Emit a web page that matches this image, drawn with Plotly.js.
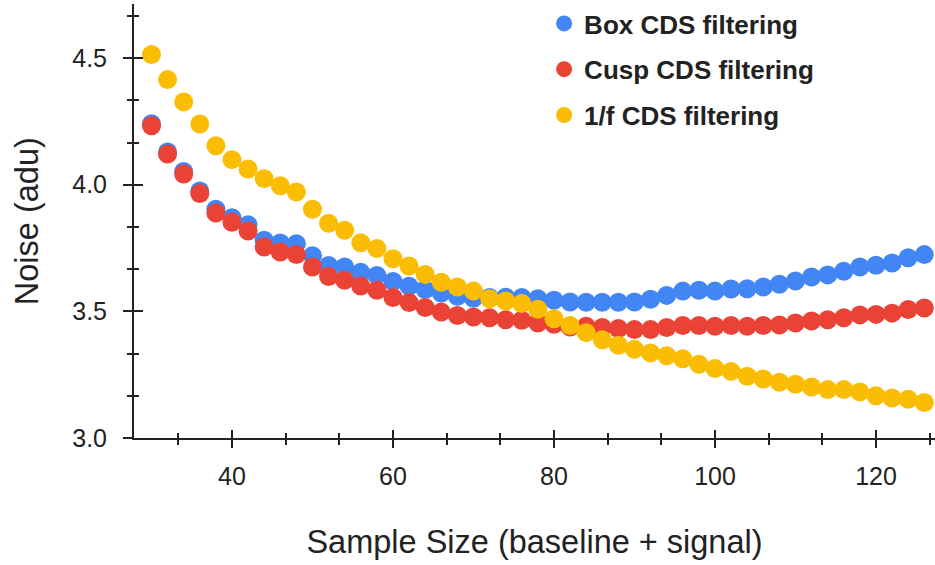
<!DOCTYPE html>
<html>
<head>
<meta charset="utf-8">
<script src="https://cdn.plot.ly/plotly-3.0.1.min.js"></script>
<style>html,body{margin:0;padding:0;background:#fff;}#chart{width:935px;height:565px;}</style>
</head>
<body>
<div id="chart"></div>
<script>
const sampleSize = [30,32,34,36,38,40,42,44,46,48,50,52,54,56,58,60,62,64,66,68,70,72,74,76,78,80,82,84,86,88,90,92,94,96,98,100,102,104,106,108,110,112,114,116,118,120,122,124,126];

const boxNoise = [4.241,4.129,4.052,3.975,3.903,3.870,3.842,3.781,3.770,3.767,3.720,3.681,3.675,3.654,3.642,3.618,3.599,3.586,3.572,3.560,3.552,3.555,3.556,3.555,3.550,3.544,3.537,3.536,3.536,3.536,3.537,3.548,3.563,3.580,3.583,3.580,3.588,3.589,3.596,3.607,3.620,3.636,3.644,3.658,3.675,3.682,3.691,3.712,3.724];

const cuspNoise = [4.233,4.121,4.042,3.965,3.888,3.852,3.817,3.754,3.734,3.724,3.675,3.638,3.623,3.600,3.583,3.555,3.535,3.515,3.497,3.484,3.478,3.475,3.467,3.465,3.454,3.449,3.438,3.441,3.436,3.432,3.428,3.428,3.436,3.444,3.444,3.441,3.444,3.441,3.444,3.446,3.454,3.462,3.467,3.475,3.486,3.488,3.493,3.507,3.513];

const oneOverFNoise = [4.514,4.415,4.327,4.240,4.154,4.099,4.062,4.024,3.996,3.971,3.903,3.848,3.820,3.771,3.748,3.708,3.679,3.646,3.615,3.596,3.580,3.550,3.541,3.531,3.508,3.471,3.444,3.416,3.388,3.366,3.350,3.336,3.325,3.313,3.291,3.274,3.263,3.244,3.233,3.220,3.212,3.201,3.191,3.191,3.182,3.167,3.158,3.153,3.140];

const seriesNames = ['Box CDS filtering','Cusp CDS filtering','1/f CDS filtering'];
const xTitle = 'Sample Size (baseline + signal)';
const yTitle = 'Noise (adu)';

const FONT = 'Liberation Sans, Arial, Helvetica, sans-serif';
const INK = '#222222';
const colors = ['#4285F4','#EA4335','#FBBC04'];
const seriesY = [boxNoise, cuspNoise, oneOverFNoise];

const traces = seriesY.map((ys, i) => ({
  type: 'scatter',
  mode: 'markers',
  name: seriesNames[i],
  x: sampleSize,
  y: ys,
  legendgroup: 'g' + i,
  marker: {color: colors[i], size: 19, line: {width: 0}},
  hoverinfo: 'x+y+name'
}));
// empty trace to host the inner-tick overlay axes
traces.push({type:'scatter', mode:'markers', x:[], y:[], xaxis:'x2', yaxis:'y2', showlegend:false, hoverinfo:'skip'});

const xRange = [27.83, 127.33];
const yRange = [3.0, 4.712];
const yDomain = [0, 0.99];

const layout = {
  width: 935, height: 565,
  margin: {l: 134, r: 0, t: 0, b: 127, pad: 0},
  paper_bgcolor: '#ffffff', plot_bgcolor: 'rgba(0,0,0,0)',
  font: {family: FONT, color: INK},
  showlegend: true,
  legend: {
    x: 0.512, xanchor: 'left', y: 1.0, yanchor: 'top',
    font: {family: FONT, size: 26, color: INK, weight: 'bold'},
    bgcolor: 'rgba(0,0,0,0)', tracegroupgap: 9, itemclick: false
  },
  xaxis: {
    range: xRange, autorange: false,
    showgrid: false, zeroline: false,
    showline: true, linecolor: INK, linewidth: 2,
    ticks: 'outside', ticklen: 8, tickwidth: 2, tickcolor: INK,
    tick0: 0, dtick: 20,
    tickfont: {family: FONT, size: 25, color: INK},
    ticklabelstandoff: 7,
    minor: {ticks: 'outside', ticklen: 5, tickwidth: 1.5, tickcolor: INK, tick0: 0, dtick: 20/3, showgrid: false},
    title: {text: xTitle, font: {family: FONT, size: 32.5, color: INK}, standoff: 41}
  },
  yaxis: {
    domain: yDomain,
    range: yRange, autorange: false,
    showgrid: false, zeroline: false,
    showline: true, linecolor: INK, linewidth: 2,
    ticks: 'outside', ticklen: 9, tickwidth: 2, tickcolor: INK,
    tick0: 0, dtick: 0.5, tickformat: '.1f',
    tickfont: {family: FONT, size: 25, color: INK},
    ticklabelstandoff: 11,
    minor: {ticks: 'outside', ticklen: 5, tickwidth: 1.5, tickcolor: INK, tick0: 0, dtick: 0.5/3, showgrid: false},
    title: {text: yTitle, font: {family: FONT, size: 32.5, color: INK}, standoff: 24}
  },
  xaxis2: {
    overlaying: 'x', anchor: 'y2', side: 'bottom',
    range: xRange, autorange: false,
    showgrid: false, zeroline: false, showline: false, showticklabels: false,
    ticks: 'inside', ticklen: 8, tickwidth: 2, tickcolor: INK,
    tick0: 0, dtick: 20,
    minor: {ticks: 'inside', ticklen: 5, tickwidth: 1.5, tickcolor: INK, tick0: 0, dtick: 20/3, showgrid: false}
  },
  yaxis2: {
    overlaying: 'y', anchor: 'x2', side: 'left', domain: yDomain,
    range: yRange, autorange: false,
    showgrid: false, zeroline: false, showline: false, showticklabels: false,
    ticks: 'inside', ticklen: 9, tickwidth: 2, tickcolor: INK,
    tick0: 0, dtick: 0.5,
    minor: {ticks: 'inside', ticklen: 5, tickwidth: 1.5, tickcolor: INK, tick0: 0, dtick: 0.5/3, showgrid: false}
  }
};

Plotly.newPlot('chart', traces, layout, {displayModeBar: false, staticPlot: false, responsive: false});
</script>
</body>
</html>
